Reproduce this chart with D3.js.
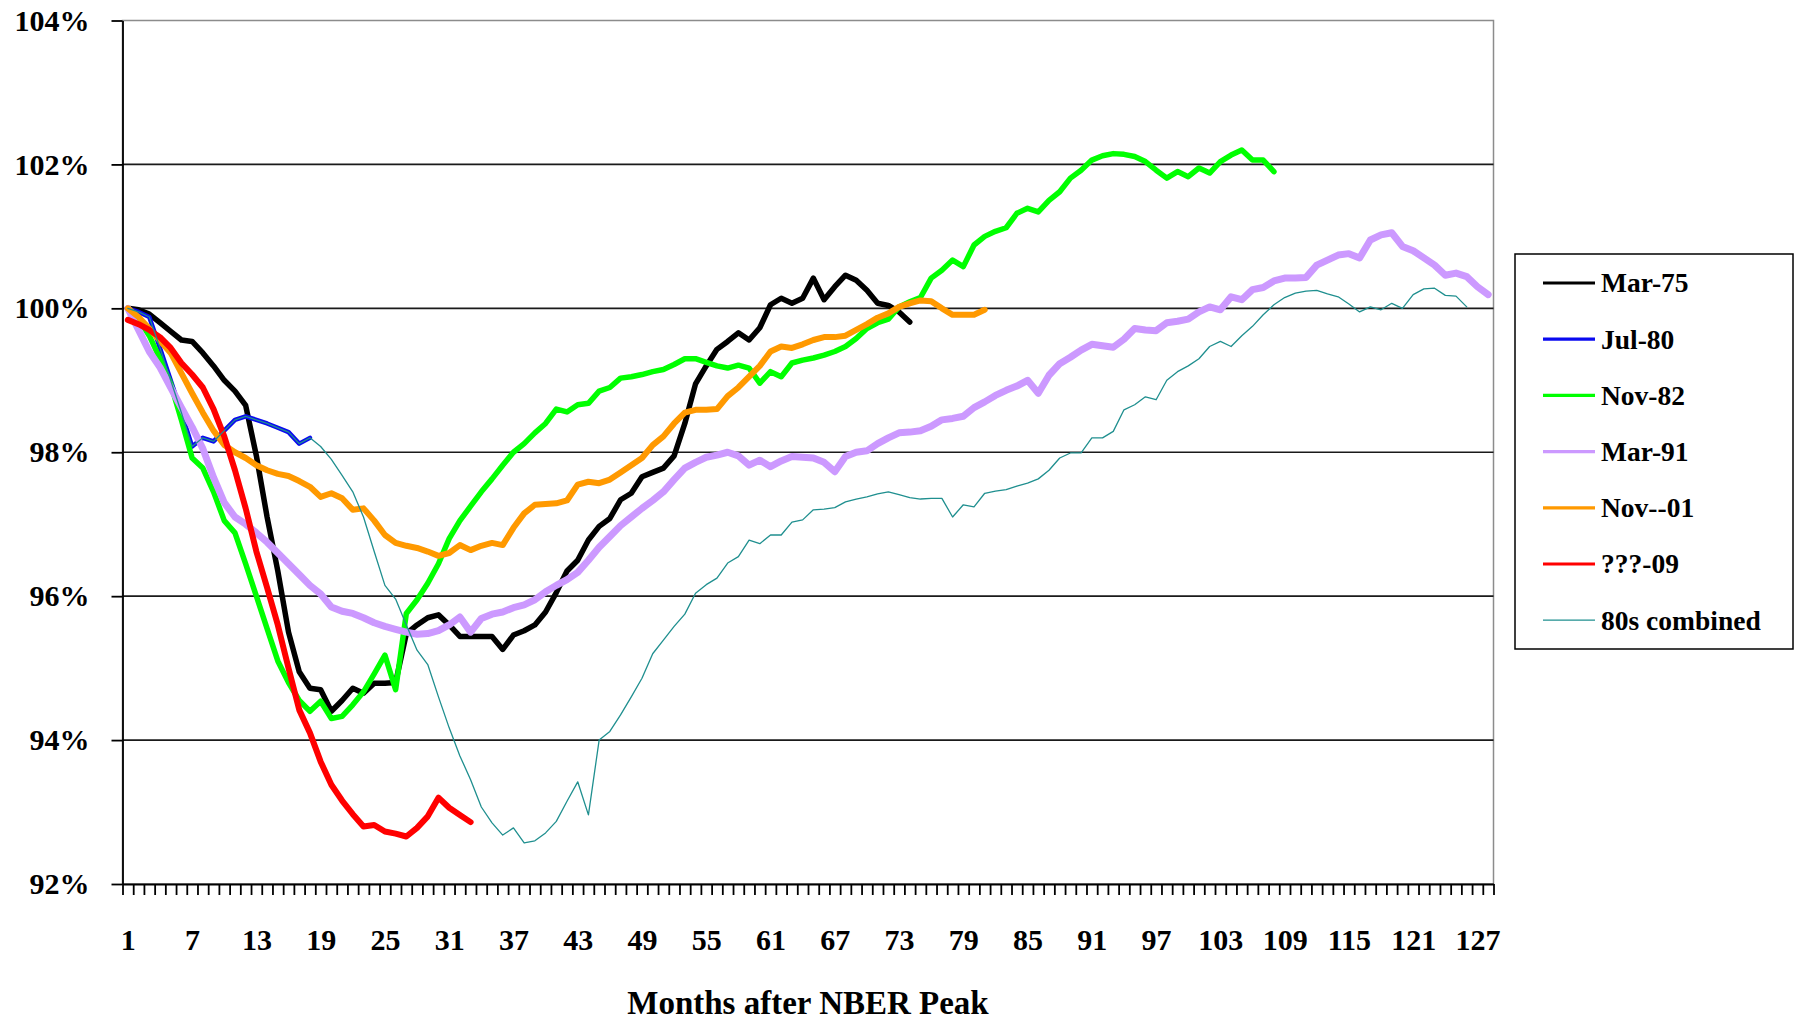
<!DOCTYPE html>
<html>
<head>
<meta charset="utf-8">
<title>Months after NBER Peak</title>
<script src="https://d3js.org/d3.v7.min.js"></script>
<style>
body { margin: 0; background: #fff; }
svg { display: block; }
.lbl { font-family: "Liberation Serif", "Times New Roman", serif; font-weight: bold; fill: #000; }
</style>
</head>
<body>
<script>
//employment index after each NBER peak, one value per month (month 1 = peak)

(function(){

//x tick labels (every 6th month) and y ticks
var monthLabels = [1, 7, 13, 19, 25, 31, 37, 43, 49, 55, 61, 67, 73, 79, 85, 91, 97, 103, 109, 115, 121, 127];
var yTicks = [92, 94, 96, 98, 100, 102, 104];
var monthCount = 128;

var mar75 = [100.0, 99.98, 99.92, 99.8, 99.68, 99.56, 99.54, 99.38, 99.2, 99.0,
    98.85, 98.65, 97.95, 97.1, 96.35, 95.5, 94.95, 94.72, 94.7, 94.4,
    94.55, 94.72, 94.65, 94.79, 94.79, 94.8, 95.48, 95.6, 95.7, 95.74,
    95.6, 95.44, 95.44, 95.44, 95.44, 95.26, 95.46, 95.52, 95.6, 95.78,
    96.05, 96.35, 96.5, 96.78, 96.97, 97.08, 97.34, 97.43, 97.66, 97.72,
    97.78, 97.95, 98.4, 98.95, 99.2, 99.43, 99.54, 99.66, 99.56, 99.73,
    100.05, 100.14, 100.07, 100.14, 100.42, 100.12, 100.3, 100.46, 100.39, 100.25,
    100.07, 100.04, 99.95, 99.81];

var jul80 = [100.0, 99.95, 99.88, 99.45, 99.0, 98.55, 98.08, 98.2, 98.15, 98.3,
    98.45, 98.5, 98.45, 98.4, 98.34, 98.28, 98.12, 98.2];

var nov82 = [100.0, 99.85, 99.62, 99.3, 98.95, 98.45, 97.92, 97.78, 97.45, 97.05,
    96.88, 96.45, 96.0, 95.55, 95.1, 94.8, 94.55, 94.4, 94.54, 94.3,
    94.33, 94.49, 94.67, 94.92, 95.18, 94.7, 95.76, 95.95, 96.18, 96.45,
    96.8, 97.05, 97.25, 97.45, 97.63, 97.82, 98.0, 98.12, 98.27, 98.4,
    98.6, 98.56, 98.66, 98.68, 98.85, 98.9, 99.03, 99.05, 99.08, 99.12,
    99.15, 99.22, 99.3, 99.3, 99.25, 99.2, 99.17, 99.21, 99.17, 98.96,
    99.12, 99.05, 99.24, 99.28, 99.31, 99.35, 99.4, 99.47, 99.58, 99.72,
    99.8, 99.85, 100.02, 100.09, 100.15, 100.42, 100.53, 100.67, 100.58, 100.88,
    101.0, 101.07, 101.12, 101.32, 101.39, 101.34, 101.5, 101.62, 101.81, 101.92,
    102.06, 102.12, 102.15, 102.14, 102.11, 102.04, 101.92, 101.81, 101.9, 101.83,
    101.95, 101.88, 102.04, 102.13, 102.2, 102.06, 102.06, 101.9];

var mar91 = [100.0, 99.7, 99.4, 99.18, 98.9, 98.62, 98.35, 98.05, 97.65, 97.3,
    97.1, 97.0, 96.88, 96.75, 96.6, 96.45, 96.3, 96.15, 96.03, 95.85,
    95.79, 95.76, 95.7, 95.63, 95.58, 95.54, 95.5, 95.47, 95.48, 95.52,
    95.6, 95.71, 95.5, 95.69, 95.75, 95.78, 95.84, 95.88, 95.95, 96.06,
    96.15, 96.23, 96.33, 96.5, 96.68, 96.83, 96.98, 97.1, 97.22, 97.33,
    97.45, 97.62, 97.78, 97.86, 97.93, 97.96, 98.0, 97.95, 97.82, 97.89,
    97.8, 97.88, 97.94, 97.93, 97.92, 97.86, 97.73, 97.94, 98.0, 98.02,
    98.12, 98.2, 98.27, 98.28, 98.3, 98.36, 98.45, 98.47, 98.5, 98.62,
    98.7, 98.79, 98.86, 98.92, 99.0, 98.82, 99.07, 99.23, 99.32, 99.42,
    99.5, 99.48, 99.46, 99.57, 99.72, 99.7, 99.69, 99.8, 99.82, 99.85,
    99.95, 100.02, 99.98, 100.16, 100.12, 100.26, 100.29, 100.38, 100.42, 100.42,
    100.43, 100.6, 100.67, 100.74, 100.76, 100.7, 100.95, 101.02, 101.05, 100.86,
    100.8, 100.7, 100.6, 100.46, 100.49, 100.44, 100.3, 100.19];

var nov01 = [100.0, 99.88, 99.72, 99.55, 99.38, 99.1, 98.82, 98.55, 98.3, 98.1,
    98.0, 97.92, 97.82, 97.75, 97.7, 97.67, 97.6, 97.52, 97.38, 97.43,
    97.36, 97.2, 97.22, 97.05, 96.85, 96.74, 96.7, 96.67, 96.62, 96.56,
    96.6, 96.71, 96.64, 96.7, 96.74, 96.71, 96.95, 97.15, 97.27, 97.28,
    97.29, 97.33, 97.55, 97.59, 97.57, 97.62, 97.72, 97.82, 97.92, 98.1,
    98.22, 98.4, 98.55, 98.59, 98.59, 98.6, 98.78, 98.9, 99.05, 99.2,
    99.4, 99.47, 99.45, 99.5, 99.56, 99.6, 99.6, 99.62, 99.7, 99.78,
    99.87, 99.93, 100.02, 100.07, 100.11, 100.1, 100.0, 99.91, 99.91, 99.91,
    99.98];

var x09 = [99.84, 99.78, 99.7, 99.6, 99.45, 99.24, 99.08, 98.9, 98.6, 98.22,
    97.75, 97.22, 96.62, 96.12, 95.6, 95.0, 94.42, 94.1, 93.7, 93.38,
    93.16, 92.97, 92.8, 92.82, 92.73, 92.7, 92.66, 92.78, 92.94, 93.2,
    93.06, 92.96, 92.86];

var combined80s = [100.0, 99.95, 99.88, 99.45, 99.0, 98.55, 98.08, 98.2, 98.15, 98.3,
    98.45, 98.5, 98.45, 98.4, 98.34, 98.28, 98.12, 98.2,
    98.08, 97.9, 97.68, 97.45, 97.1, 96.62, 96.15, 95.96, 95.6, 95.25,
    95.05, 94.6, 94.17, 93.78, 93.45, 93.07, 92.85, 92.68, 92.78, 92.57,
    92.6, 92.71, 92.87, 93.15, 93.42, 92.96, 94.0, 94.12, 94.35, 94.6,
    94.86, 95.2, 95.39, 95.58, 95.75, 96.04, 96.16, 96.25, 96.46, 96.55,
    96.78, 96.73, 96.85, 96.85, 97.03, 97.06, 97.2, 97.21, 97.23, 97.31,
    97.35, 97.38, 97.42, 97.45, 97.41, 97.37, 97.35, 97.36, 97.36, 97.1,
    97.27, 97.24, 97.43, 97.46, 97.48, 97.53, 97.57, 97.63, 97.75, 97.92,
    97.99, 97.99, 98.2, 98.2, 98.29, 98.59, 98.66, 98.77, 98.73, 99.0,
    99.12, 99.2, 99.3, 99.47, 99.54, 99.47, 99.62, 99.75, 99.91, 100.05,
    100.15, 100.21, 100.24, 100.25, 100.2, 100.16, 100.06, 99.95, 100.02, 99.98,
    100.07, 100.0, 100.19, 100.27, 100.28, 100.18, 100.17, 100.02];

var seriesNames = ["Mar-75", "Jul-80", "Nov-82", "Mar-91", "Nov--01", "???-09", "80s combined"];
var seriesValues = [mar75, jul80, nov82, mar91, nov01, x09, combined80s];

//line look for each series (same order as names)
var seriesColors = ["#000000", "#0a0af0", "#00ff00", "#cc99ff", "#ff9900", "#ff0000", "#1f8f8f"];
var seriesWidths = [5.5, 4.5, 5.5, 7, 6, 6, 1.3];
var legendWidths = [3.2, 3.2, 3.2, 3.2, 3.2, 3.2, 1.2];


//begin script when window loads
window.onload = setChart;

function setChart(){
    var width = 1797,
        height = 1021;

    //plot frame inside the page
    var plot = {left: 122.5, right: 1493.5, top: 20.5, bottom: 884};

    var svg = d3.select("body")
        .append("svg")
        .attr("width", width)
        .attr("height", height);

    //month m sits at the middle of its category
    var x = d3.scaleLinear()
        .domain([0.5, monthCount + 0.5])
        .range([plot.left, plot.right]);

    var y = d3.scaleLinear()
        .domain([92, 104])
        .range([plot.bottom, plot.top]);

    setFrame(svg, plot, x, y);
    setLines(svg, x, y);
    setLegend(svg);

    //axis title
    svg.append("text")
        .attr("class", "lbl")
        .attr("x", (plot.left + plot.right) / 2)
        .attr("y", 1014)
        .attr("text-anchor", "middle")
        .style("font-size", "33px")
        .text("Months after NBER Peak");
};

function setFrame(svg, plot, x, y){
    //gray plot border
    svg.append("rect")
        .attr("x", plot.left)
        .attr("y", plot.top)
        .attr("width", plot.right - plot.left)
        .attr("height", plot.bottom - plot.top)
        .attr("fill", "none")
        .attr("stroke", "#8c8c8c")
        .attr("stroke-width", 1.5);

    //black gridlines
    svg.selectAll(".grid")
        .data(yTicks.filter(function(d){ return d > 92 && d < 104; }))
        .enter()
        .append("line")
        .attr("class", "grid")
        .attr("x1", plot.left)
        .attr("x2", plot.right)
        .attr("y1", function(d){ return y(d); })
        .attr("y2", function(d){ return y(d); })
        .attr("stroke", "#1a1a1a")
        .attr("stroke-width", 1.6);

    //y axis with % labels
    var yAxis = svg.append("g")
        .attr("transform", "translate(" + plot.left + ",0)")
        .call(d3.axisLeft(y)
            .tickValues(yTicks)
            .tickSize(11)
            .tickSizeOuter(0)
            .tickPadding(22)
            .tickFormat(function(d){ return d + "%"; }));
    yAxis.selectAll("text").attr("class", "lbl").style("font-size", "30px").attr("fill", "#000");
    yAxis.selectAll("line, path").attr("stroke", "#000").attr("stroke-width", 1.8);

    //x axis: a tick at every category edge
    var xTicks = svg.append("g")
        .attr("transform", "translate(0," + plot.bottom + ")")
        .call(d3.axisBottom(x)
            .tickValues(d3.range(0.5, monthCount + 1, 1))
            .tickSize(11)
            .tickSizeOuter(0)
            .tickFormat(""));
    xTicks.selectAll("line, path").attr("stroke", "#000").attr("stroke-width", 1.8);

    //x labels every 6th month
    var xLabels = svg.append("g")
        .attr("transform", "translate(0," + plot.bottom + ")")
        .call(d3.axisBottom(x)
            .tickValues(monthLabels)
            .tickSize(0)
            .tickPadding(45));
    xLabels.select(".domain").remove();
    xLabels.selectAll("text").attr("class", "lbl").style("font-size", "30px").attr("fill", "#000");
};

function setLines(svg, x, y){
    var line = d3.line()
        .x(function(d, i){ return x(i + 1); })
        .y(function(d){ return y(d); });

    svg.selectAll(".series")
        .data(seriesValues)
        .enter()
        .append("path")
        .attr("class", "series")
        .attr("d", line)
        .attr("fill", "none")
        .attr("stroke", function(d, i){ return seriesColors[i]; })
        .attr("stroke-width", function(d, i){ return seriesWidths[i]; })
        .attr("stroke-linejoin", "round")
        .attr("stroke-linecap", "round");
};

function setLegend(svg){
    var box = {x: 1515, y: 254, w: 278, h: 395};

    svg.append("rect")
        .attr("x", box.x)
        .attr("y", box.y)
        .attr("width", box.w)
        .attr("height", box.h)
        .attr("fill", "#fff")
        .attr("stroke", "#000")
        .attr("stroke-width", 1.5);

    var items = svg.selectAll(".legendItem")
        .data(seriesNames)
        .enter()
        .append("g")
        .attr("class", "legendItem")
        .attr("transform", function(d, i){ return "translate(" + box.x + "," + (box.y + 29 + i * 56.2) + ")"; });

    items.append("line")
        .attr("x1", 28)
        .attr("x2", 80)
        .attr("stroke", function(d, i){ return seriesColors[i]; })
        .attr("stroke-width", function(d, i){ return legendWidths[i]; });

    items.append("text")
        .attr("class", "lbl")
        .attr("x", 86)
        .attr("dy", "0.34em")
        .style("font-size", "27.5px")
        .text(function(d){ return d; });
};

})();
</script>
</body>
</html>
